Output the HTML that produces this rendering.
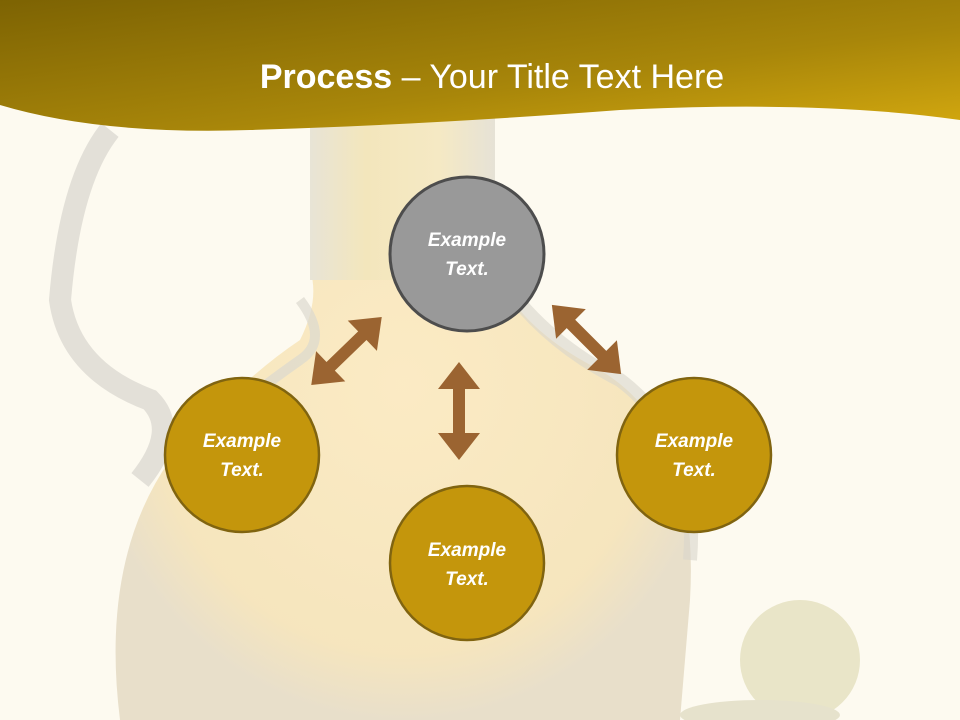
<!DOCTYPE html>
<html><head><meta charset="utf-8"><style>
html,body{margin:0;padding:0;width:960px;height:720px;overflow:hidden;background:#fdfaf0}
svg{display:block}
</style></head><body>
<svg width="960" height="720" viewBox="0 0 960 720" xmlns="http://www.w3.org/2000/svg">
<defs>
<linearGradient id="hdr" x1="0" y1="0" x2="1" y2="1">
<stop offset="0" stop-color="#7d6303"/><stop offset="0.6" stop-color="#a8860a"/><stop offset="1" stop-color="#d4a90f"/>
</linearGradient>
<radialGradient id="body" cx="0.5" cy="0.45" r="0.55">
<stop offset="0" stop-color="#fbe9bf"/><stop offset="0.8" stop-color="#f5e3b8"/><stop offset="1" stop-color="#e6dcc6"/>
</radialGradient>
<linearGradient id="neck" x1="0" y1="0" x2="1" y2="0">
<stop offset="0" stop-color="#e8e4d6"/><stop offset="0.3" stop-color="#f3e6bc"/><stop offset="0.7" stop-color="#f5e9c4"/><stop offset="1" stop-color="#e6e2d6"/>
</linearGradient>
</defs>
<rect width="960" height="720" fill="#fdfaf0"/>
<!-- jug -->
<path d="M310 110 L495 110 L495 270 Q520 330 600 370 Q700 430 690 600 L680 720 L120 720 Q100 560 170 460 Q240 380 300 340 Q320 300 310 270 Z" fill="url(#body)" opacity="0.9"/>
<rect x="310" y="110" width="185" height="170" fill="url(#neck)"/>
<path d="M300 300 Q330 340 300 360 Q200 430 170 480" stroke="#dcd9cf" stroke-width="10" fill="none" opacity="0.7"/>
<path d="M495 270 Q540 340 620 380 Q700 440 690 560" stroke="#d8d6cc" stroke-width="14" fill="none" opacity="0.6"/>
<path d="M110 130 Q70 180 60 300 Q70 370 150 400 Q180 430 140 480" stroke="#dcdad2" stroke-width="22" fill="none" opacity="0.8"/>
<circle cx="800" cy="660" r="60" fill="#e9e5c8"/>
<ellipse cx="760" cy="715" rx="80" ry="15" fill="#e6e2cc"/>
<!-- header -->
<path d="M0 0 H960 V120 Q820 100 620 110 Q420 125 250 130 Q100 135 0 105 Z" fill="url(#hdr)"/>
<text x="492" y="88" text-anchor="middle" font-family="Liberation Sans, sans-serif" font-size="34" fill="#fff"><tspan font-weight="bold">Process</tspan> – Your Title Text Here</text>
<!-- arrows -->
<g fill="#9b6431">
<polygon transform="translate(459,411)" points="0,-49 21,-22 6,-22 6,22 21,22 0,49 -21,22 -6,22 -6,-22 -21,-22"/>
<polygon transform="translate(346.5,351) rotate(46)" points="0,-49 21,-22 6,-22 6,22 21,22 0,49 -21,22 -6,22 -6,-22 -21,-22"/>
<polygon transform="translate(586.5,339.5) rotate(-45)" points="0,-49 21,-22 6,-22 6,22 21,22 0,49 -21,22 -6,22 -6,-22 -21,-22"/>
</g>
<!-- circles -->
<g font-family="Liberation Sans, sans-serif" font-size="19" font-weight="bold" font-style="italic" fill="#fff" text-anchor="middle">
<circle cx="467" cy="254" r="77" fill="#999999" stroke="#4d4d4d" stroke-width="3"/>
<text x="467" y="246">Example</text><text x="467" y="275">Text.</text>
<circle cx="242" cy="455" r="77" fill="#c4960c" stroke="#806410" stroke-width="2.5"/>
<text x="242" y="447">Example</text><text x="242" y="476">Text.</text>
<circle cx="694" cy="455" r="77" fill="#c4960c" stroke="#806410" stroke-width="2.5"/>
<text x="694" y="447">Example</text><text x="694" y="476">Text.</text>
<circle cx="467" cy="563" r="77" fill="#c4960c" stroke="#806410" stroke-width="2.5"/>
<text x="467" y="556">Example</text><text x="467" y="585">Text.</text>
</g>
</svg>
</body></html>
